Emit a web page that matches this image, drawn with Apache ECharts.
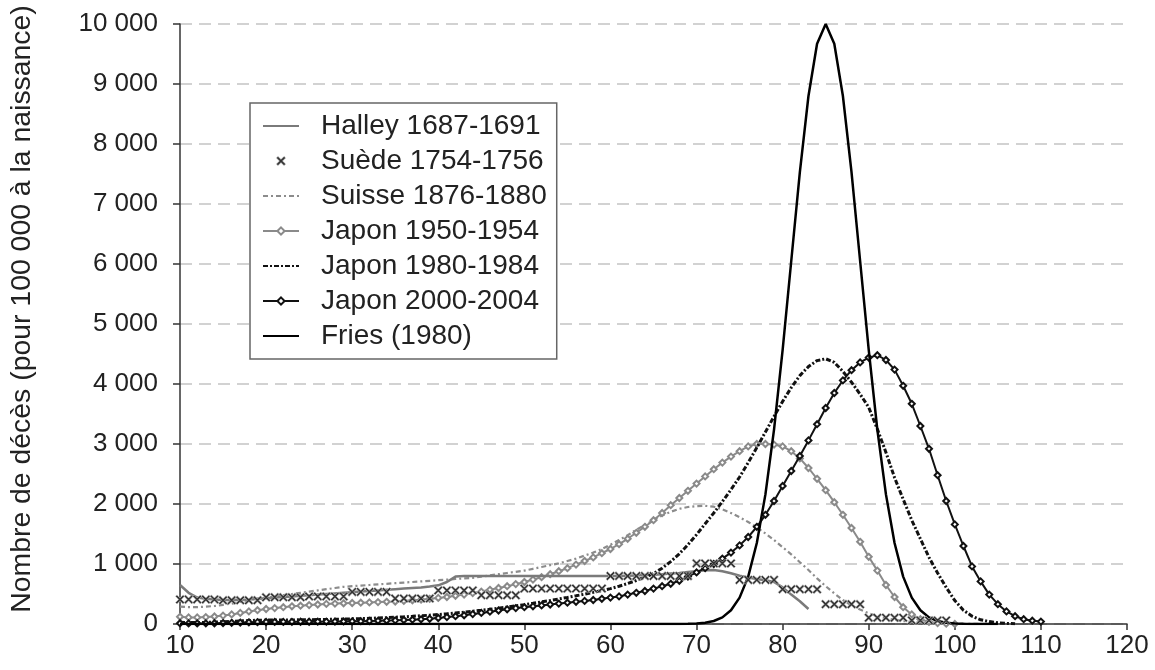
<!DOCTYPE html>
<html>
<head>
<meta charset="utf-8">
<script src="https://cdn.jsdelivr.net/npm/echarts@6/dist/echarts.min.js"></script>
<style>
html,body{margin:0;padding:0;background:#fff;}
#chart{width:1155px;height:670px;}
</style>
</head>
<body>
<div id="chart"></div>
<script>
const ages = [10,11,12,13,14,15,16,17,18,19,20,21,22,23,24,25,26,27,28,29,30,31,32,33,34,35,36,37,38,39,40,41,42,43,44,45,46,47,48,49,50,51,52,53,54,55,56,57,58,59,60,61,62,63,64,65,66,67,68,69,70,71,72,73,74,75,76,77,78,79,80,81,82,83,84,85,86,87,88,89,90,91,92,93,94,95,96,97,98,99,100,101,102,103,104,105,106,107,108,109,110];

const seriesNames = ["Halley 1687-1691","Suède 1754-1756","Suisse 1876-1880","Japon 1950-1954","Japon 1980-1984","Japon 2000-2004","Fries (1980)"];

const halley = [
650,520,440,420,410,400,400,405,410,420,
430,440,450,460,470,480,490,500,510,520,
530,540,550,560,570,580,590,600,610,625,
645,700,790,800,800,800,800,800,800,800,
800,800,800,800,800,800,800,800,800,800,
800,800,805,810,815,820,830,840,850,865,
880,895,900,880,845,805,775,750,730,700,
610,490,380,250,null,null,null,null,null,null,
null,null,null,null,null,null,null,null,null,null,
null,null,null,null,null,null,null,null,null,null,
null];

const suede = [
410,410,410,410,410,395,395,395,395,395,
445,445,445,445,445,460,460,460,460,460,
535,535,535,535,535,425,425,425,425,425,
560,560,560,560,560,480,480,480,480,480,
590,590,590,590,590,590,590,590,590,590,
800,800,800,800,800,800,800,800,800,800,
1010,1010,1010,1010,1010,735,735,735,735,735,
580,580,580,580,580,330,330,330,330,330,
105,105,105,105,105,60,60,60,60,60,
null,null,null,null,null,null,null,null,null,null,
null];

const suisse = [
290,280,280,290,300,320,340,370,400,420,
440,460,480,500,520,540,560,580,600,620,
630,640,650,660,670,680,690,700,710,720,
730,740,750,760,770,790,810,830,850,870,
890,920,950,980,1010,1050,1090,1140,1190,1250,
1320,1400,1480,1570,1650,1730,1810,1870,1920,1950,
1965,1970,1955,1910,1850,1780,1700,1610,1510,1400,
1280,1160,1030,900,760,630,510,400,310,240,
180,130,95,70,50,35,25,18,12,8,
5,3,2,1,null,null,null,null,null,null,
null];

const japon1950 = [
120,110,110,115,125,140,160,185,210,230,
250,265,280,295,305,315,325,335,340,345,
350,355,360,365,370,375,385,395,405,420,
435,450,470,490,515,540,570,600,630,665,
700,740,780,830,880,930,990,1050,1110,1180,
1250,1330,1420,1520,1620,1730,1850,1980,2100,2220,
2340,2460,2580,2690,2790,2880,2960,3000,3000,2990,
2960,2880,2760,2600,2420,2230,2030,1820,1600,1370,
1120,890,650,450,280,160,80,35,15,6,
2,null,null,null,null,null,null,null,null,null,
null];

const japon1980 = [
30,25,25,28,32,38,45,52,58,62,
65,66,67,68,70,72,74,76,79,82,
86,90,95,100,106,113,120,128,137,147,
158,170,183,197,212,228,245,263,282,302,
323,345,368,392,417,443,470,498,527,557,
590,630,675,725,780,840,930,1040,1170,1320,
1490,1670,1850,2040,2240,2450,2690,2940,3200,3460,
3710,3940,4140,4290,4390,4420,4360,4210,4030,3830,
3610,3250,2860,2440,2080,1730,1420,1110,850,610,
390,230,130,70,40,20,10,5,null,null,
null];

const japon2000 = [
12,10,10,11,13,16,20,24,28,31,
33,34,35,36,37,38,39,40,41,43,
45,47,50,53,57,61,66,72,78,88,
100,115,130,145,165,185,205,225,245,265,
280,295,310,325,340,355,370,385,400,420,
440,460,490,520,550,590,630,670,720,790,
860,930,1000,1090,1190,1310,1450,1620,1820,2050,
2300,2550,2800,3060,3330,3600,3850,4060,4230,4360,
4440,4480,4400,4240,3970,3670,3300,2920,2480,2050,
1660,1300,960,710,490,330,210,130,80,55,
40];

const fries = [
0,0,0,0,0,0,0,0,0,0,
0,0,0,0,0,0,0,0,0,0,
0,0,0,0,0,0,0,0,0,0,
0,0,0,0,0,0,0,0,0,0,
0,0,0,0,0,0,0,0,0,0,
0,0,0,0,0,0,0,1,2,4,
10,20,50,110,230,440,790,1350,2160,3240,
4570,6050,7530,8800,9670,10000,9670,8800,7530,6050,
4570,3240,2160,1350,790,440,230,110,50,20,
10,4,2,1,0,0,null,null,null,null,
null];

const xMin = 10, xMax = 120, xStep = 10;
const yMin = 0, yMax = 10000, yStep = 1000;

function pairs(arr){ return ages.map((a,i)=>[a, arr[i]]); }
const FONT = '"Liberation Sans", Arial, Helvetica, sans-serif';
const xPath = 'path://M0,1.6 L1.6,0 L5,3.4 L8.4,0 L10,1.6 L6.6,5 L10,8.4 L8.4,10 L5,6.6 L1.6,10 L0,8.4 L3.4,5 Z';
const noSym = {opacity:0};

const chart = echarts.init(document.getElementById('chart'), null, {renderer:'canvas'});
chart.setOption({
  animation:false,
  backgroundColor:'#ffffff',
  textStyle:{fontFamily:FONT},
  grid:{left:171, right:28, top:24, bottom:46, containLabel:false},
  legend:{
    orient:'vertical', left:250, top:103,
    padding:[9,10,9,12],
    itemWidth:36, itemHeight:9, itemGap:7,
    backgroundColor:'#ffffff',
    borderColor:'#666', borderWidth:1.5,
    textStyle:{fontSize:28, color:'#222', fontFamily:FONT, padding:[0,0,0,17]},
    data:[
      {name:seriesNames[0], itemStyle:noSym},
      {name:seriesNames[1], itemStyle:{color:'#333', borderColor:'#999', borderWidth:0.5}},
      {name:seriesNames[2], itemStyle:noSym},
      {name:seriesNames[3]},
      {name:seriesNames[4], itemStyle:noSym},
      {name:seriesNames[5]},
      {name:seriesNames[6], itemStyle:noSym}
    ]
  },
  xAxis:{
    type:'value', min:xMin, max:xMax, interval:xStep,
    axisLine:{show:true, lineStyle:{color:'#333', width:1.5}},
    axisTick:{show:true, length:6, lineStyle:{color:'#333', width:1.5}},
    axisLabel:{fontSize:26, color:'#222', margin:9, fontFamily:FONT},
    splitLine:{show:false}
  },
  yAxis:{
    type:'value', min:yMin, max:yMax, interval:yStep,
    name:'Nombre de décès (pour 100 000 à la naissance)',
    nameLocation:'middle', nameGap:144,
    nameTextStyle:{fontSize:28.4, color:'#222', fontFamily:FONT, padding:[0,0,0,30]},
    axisLine:{show:true, lineStyle:{color:'#333', width:1.5}},
    axisTick:{show:true, length:7, lineStyle:{color:'#333', width:1.5}},
    axisLabel:{fontSize:26, color:'#222', margin:22, fontFamily:FONT,
      formatter:function(v){ return String(v).replace(/\B(?=(\d{3})+(?!\d))/g,' '); }},
    splitLine:{show:true, lineStyle:{color:'#c4c4c4', width:1.5, type:[12,7]}}
  },
  series:[
    {name:seriesNames[0], type:'line', data:pairs(halley), symbol:'none',
      lineStyle:{color:'#7a7a7a', width:2.5}, itemStyle:{color:'#7a7a7a'}, z:3},
    {name:seriesNames[1], type:'scatter', data:pairs(suede), symbol:xPath, symbolSize:9,
      itemStyle:{color:'#333', borderColor:'#c8c8c8', borderWidth:0.6, opacity:1}, z:6},
    {name:seriesNames[2], type:'line', data:pairs(suisse), symbol:'none',
      lineStyle:{color:'#8c8c8c', width:2.2, type:[5,3,2,3]}, itemStyle:{color:'#8c8c8c'}, z:2},
    {name:seriesNames[3], type:'line', data:pairs(japon1950), symbol:'emptyDiamond', symbolSize:6, showSymbol:true,
      lineStyle:{color:'#8a8a8a', width:2}, itemStyle:{color:'#8a8a8a', borderColor:'#8a8a8a', borderWidth:1}, z:2},
    {name:seriesNames[4], type:'line', data:pairs(japon1980), symbol:'none',
      lineStyle:{color:'#111', width:3, type:[5,2,2,2]}, itemStyle:{color:'#111'}, z:4},
    {name:seriesNames[5], type:'line', data:pairs(japon2000), symbol:'emptyDiamond', symbolSize:6, showSymbol:true,
      lineStyle:{color:'#111', width:2}, itemStyle:{color:'#111', borderColor:'#111', borderWidth:1}, z:4},
    {name:seriesNames[6], type:'line', data:pairs(fries), symbol:'none',
      lineStyle:{color:'#000', width:2.5}, itemStyle:{color:'#000'}, z:5}
  ]
});
</script>
</body>
</html>
